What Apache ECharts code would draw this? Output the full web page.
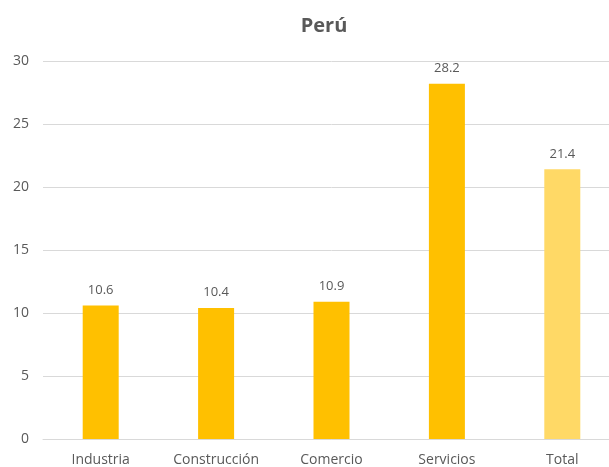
<!DOCTYPE html>
<html>
<head>
<meta charset="utf-8">
<script src="https://cdn.jsdelivr.net/npm/echarts@6/dist/echarts.min.js"></script>
<style>
  html, body { margin: 0; padding: 0; background: #fff; overflow: hidden; }
  #chart { width: 620px; height: 467px; }
</style>
</head>
<body>
<div id="chart"></div>
<script>
// Sector values for Peru
const categories = ['Industria', 'Construcción', 'Comercio', 'Servicios', 'Total'];
const values = [10.6, 10.4, 10.9, 28.2, 21.4];
const yTicks = { min: 0, max: 30, interval: 5 };

const barColor = '#FFC000';
const totalColor = '#FFD966';
const textColor = '#595959';
const fontFamily = '"Open Sans", "Liberation Sans", sans-serif';

const chart = echarts.init(document.getElementById('chart'), null, { renderer: 'canvas' });

chart.setOption({
  animation: false,
  title: {
    text: 'Perú',
    left: 319,
    top: 11,
    textAlign: 'center',
    textStyle: { color: textColor, fontSize: 20, fontWeight: 'bold', fontFamily }
  },
  grid: { left: 43, right: 0, top: 61, bottom: 28, containLabel: false, outerBoundsMode: 'none' },
  xAxis: {
    type: 'category',
    data: categories,
    axisTick: { show: false },
    axisLine: { lineStyle: { color: '#D9D9D9', width: 1 } },
    axisLabel: { color: textColor, fontSize: 14, fontFamily, margin: 14 }
  },
  yAxis: {
    type: 'value',
    min: yTicks.min,
    max: yTicks.max,
    interval: yTicks.interval,
    axisLine: { show: false },
    axisTick: { show: false },
    splitLine: { lineStyle: { color: '#D9D9D9', width: 1 } },
    axisLabel: { color: textColor, fontSize: 14, fontFamily, margin: 14 }
  },
  series: [{
    type: 'bar',
    barWidth: 36,
    data: values.map((v, i) => ({
      value: v,
      itemStyle: { color: i === values.length - 1 ? totalColor : barColor }
    })),
    label: {
      show: true,
      position: 'top',
      distance: 9,
      color: textColor,
      fontSize: 13,
      fontFamily,
      formatter: p => p.value.toFixed(1)
    }
  }]
});
</script>
</body>
</html>
